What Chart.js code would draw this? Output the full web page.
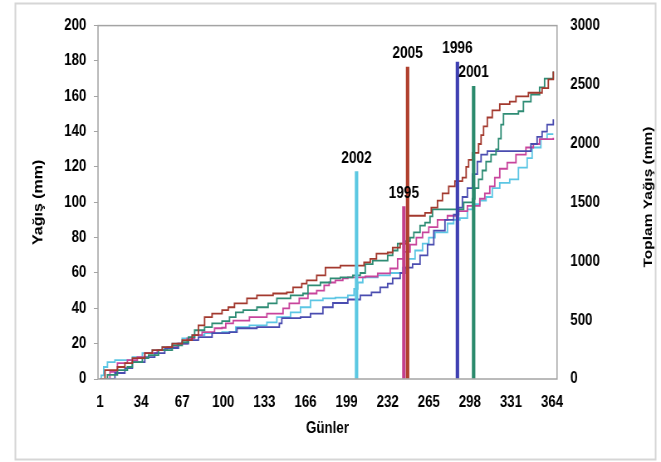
<!DOCTYPE html>
<html><head><meta charset="utf-8">
<script src="https://cdn.jsdelivr.net/npm/chart.js@4.4.1/dist/chart.umd.min.js"></script>
<style>
html,body{margin:0;padding:0;overflow:hidden;background:#fff;width:661px;height:462px;}
#wrap{width:796px;height:462px;transform:scaleX(0.8304);transform-origin:0 0;}
canvas{display:block;}
</style></head><body>
<div id="wrap"><canvas id="c" width="796" height="462"></canvas></div>
<script>
// ---- data ----
const tickDays = [1,34,67,100,133,166,199,232,265,298,331,364];
const barYears = ['2002','1995','2005','1996','2001'];
const barDays = [207,245,248,288,301];
const barValues = [117.4,97.6,176.5,179.3,165.6];
const barColors = ['#5CC8E2','#C4408E','#B0402E','#3F40B2','#2A8A6C'];

const days2005 = [1,5,15,21,27,37,43,51,59,67,75,80,85,91,99,104,109,119,127,140,151,156,163,167,175,182,194,213,218,223,232,236,242,248,262,267,272,276,281,286,292,295,297,300,305,307,309,312,316,322,330,335,345,356,361,365];
const total2005 = [0,75,102,135,177,219,245,270,300,330,372,456,525,555,585,609,642,684,710,726,735,777,810,837,879,945,963,990,1020,1065,1074,1116,1149,1386,1410,1455,1515,1575,1635,1680,1710,1800,1860,1920,1995,2070,2145,2220,2280,2333,2355,2400,2430,2470,2544,2610];

const days2001 = [1,7,15,23,27,35,40,48,59,67,72,77,85,91,99,105,110,116,127,136,143,154,164,168,178,186,194,204,210,214,220,232,236,240,246,250,253,258,262,266,268,290,293,300,302,305,308,311,315,319,321,323,325,337,341,347,354,358,365];
const total2001 = [0,35,75,102,144,177,203,245,285,312,356,414,440,473,491,525,566,585,609,642,684,710,726,795,819,855,863,879,900,975,1005,1050,1091,1149,1170,1200,1245,1302,1328,1380,1440,1440,1500,1530,1620,1695,1770,1845,1905,1950,2040,2160,2250,2273,2355,2415,2475,2550,2610];

const days1996 = [1,11,13,21,27,37,45,53,64,72,80,91,105,111,127,145,147,162,170,180,188,200,210,219,226,232,236,242,246,252,258,264,269,278,285,289,292,296,300,304,307,312,345,347,352,356,360,365];
const total1996 = [0,0,51,93,144,186,219,263,300,330,356,390,398,431,440,473,516,525,555,609,645,675,710,735,777,810,855,900,945,975,1050,1140,1260,1350,1395,1455,1545,1620,1740,1845,1905,1935,1935,1995,2055,2100,2160,2205];

const days1995 = [1,7,9,15,23,31,37,47,55,63,71,77,83,93,99,102,108,121,135,148,153,161,168,175,181,185,190,196,200,214,224,234,240,245,250,255,260,265,272,280,288,296,306,310,314,318,322,328,335,343,349,354,365];
const total1995 = [0,0,60,135,161,186,219,245,270,300,345,372,398,431,435,473,495,525,555,600,642,684,726,750,795,819,837,855,863,870,896,938,1020,1080,1140,1200,1245,1290,1350,1386,1425,1470,1530,1575,1635,1710,1785,1836,1905,1965,1995,2037,2048];

const days2002 = [1,2,4,7,13,27,35,43,51,59,67,75,85,99,110,121,135,143,154,162,170,180,190,200,205,208,212,224,234,244,249,254,260,265,270,280,285,290,296,300,306,311,316,322,330,337,344,348,355,360,365];
const total2002 = [0,30,102,144,161,186,219,245,270,300,345,372,390,398,440,456,480,525,566,609,668,684,690,710,765,819,863,879,900,945,1020,1091,1149,1200,1245,1320,1350,1365,1440,1485,1515,1545,1620,1665,1695,1794,1875,1965,2037,2079,2079];

const lineSeries = [
  {name:'2005', days:days2005, totals:total2005, color:'#A3392E'},
  {name:'2001', days:days2001, totals:total2001, color:'#2E8C74'},
  {name:'1996', days:days1996, totals:total1996, color:'#4A4CB0'},
  {name:'1995', days:days1995, totals:total1995, color:'#C8449C'},
  {name:'2002', days:days2002, totals:total2002, color:'#5CC6E4'}
];

// ---- chart ----
const FONT = '"Liberation Sans", Arial, sans-serif';
Chart.defaults.font.family = FONT;
Chart.defaults.font.size = 16;
Chart.defaults.font.weight = 'bold';
Chart.defaults.color = '#000';

const decor = {
  id: 'decor',
  beforeDraw(chart) {
    const ctx = chart.ctx;
    ctx.save();
    ctx.fillStyle = '#fff';
    ctx.fillRect(0, 0, chart.width, chart.height);
    ctx.strokeStyle = '#D6D6D6';
    ctx.lineWidth = 2;
    ctx.strokeRect(18.5, 3.5, 771, 456);
    ctx.restore();
  },
  afterDatasetsDraw(chart) {
    const ctx = chart.ctx;
    const a = chart.chartArea;
    ctx.save();
    ctx.strokeStyle = '#A4A4A4';
    ctx.lineWidth = 1.5;
    ctx.strokeRect(a.left, a.top, a.right - a.left, a.bottom - a.top);
    const meta = chart.getDatasetMeta(0);
    ctx.fillStyle = '#000';
    ctx.font = 'bold 16.5px ' + FONT;
    ctx.textAlign = 'center';
    ctx.textBaseline = 'middle';
    meta.data.forEach((el, i) => {
      ctx.fillText(barYears[i], el.x, el.y - 13.5);
    });
    ctx.restore();
  },
  afterDraw(chart) {
    const ctx = chart.ctx;
    ctx.save();
    ctx.translate(780.4, 197);
    ctx.rotate(-Math.PI / 2);
    ctx.fillStyle = '#000';
    ctx.font = 'bold 15.5px ' + FONT;
    ctx.textAlign = 'center';
    ctx.textBaseline = 'middle';
    ctx.fillText('Toplam Yağış (mm)', 0, 0);
    ctx.restore();
  }
};

const datasets = [{
  type: 'bar',
  label: 'Günlük',
  data: barDays.map((d, i) => ({x: d, y: barValues[i]})),
  backgroundColor: barColors,
  borderWidth: 0,
  barThickness: 3.5,
  xAxisID: 'x',
  yAxisID: 'y',
  order: 0
}].concat(lineSeries.map(s => ({
  type: 'line',
  label: s.name,
  data: s.days.map((d, i) => ({x: d, y: s.totals[i]})),
  borderColor: s.color,
  borderWidth: 1.8,
  pointRadius: 0,
  stepped: true,
  fill: false,
  xAxisID: 'x',
  yAxisID: 'y1',
  order: 1
})));

new Chart(document.getElementById('c'), {
  type: 'line',
  data: { datasets },
  options: {
    responsive: false,
    animation: false,
    devicePixelRatio: 1,
    layout: { padding: { top: 24, left: 0, right: 0, bottom: 0 } },
    plugins: { legend: { display: false }, tooltip: { enabled: false } },
    scales: {
      x: {
        type: 'linear', position: 'bottom', min: -0.6, max: 368, offset: false,
        afterBuildTicks: s => { s.ticks = tickDays.map(v => ({value: v})); },
        afterFit: s => { s.height = 83; },
        ticks: { autoSkip: false, maxRotation: 0, padding: 14, callback: v => String(v) },
        grid: { display: false, drawTicks: false },
        border: { display: false },
        title: { display: true, text: 'Günler', padding: { top: 0, bottom: 24 }, font: { size: 16, weight: 'bold' } }
      },
      y: {
        type: 'linear', position: 'left', min: 0, max: 200,
        afterFit: s => { s.width = 118; },
        ticks: { stepSize: 20, padding: 9, callback: v => String(v) },
        grid: { drawOnChartArea: false, drawTicks: true, tickLength: 5, color: '#A4A4A4' },
        border: { display: false },
        title: { display: true, text: 'Yağış (mm)', padding: { top: 37, bottom: 0 }, font: { size: 16, weight: 'bold' } }
      },
      y1: {
        type: 'linear', position: 'right', min: 0, max: 3000,
        afterFit: s => { s.width = 125.2; },
        ticks: { stepSize: 500, padding: 16, callback: v => String(v) },
        grid: { display: false, drawTicks: false },
        border: { display: false }
      }
    }
  },
  plugins: [decor]
});
</script></body></html>
